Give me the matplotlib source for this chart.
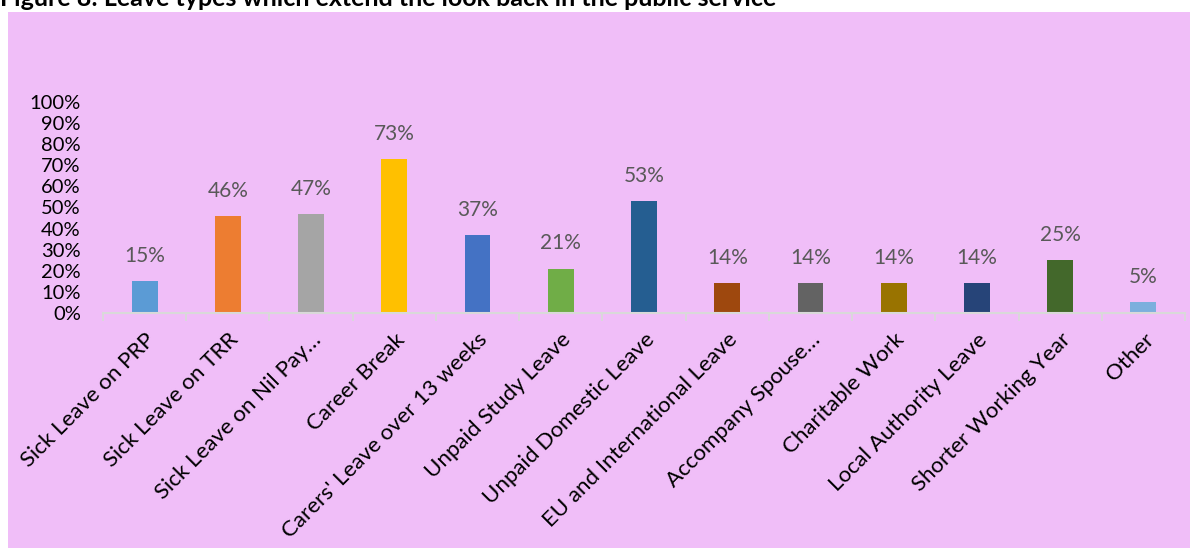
import matplotlib
matplotlib.use("Agg")
import matplotlib.pyplot as plt
from matplotlib.patches import Rectangle
from matplotlib.ticker import PercentFormatter, FixedLocator, NullFormatter

plt.rcParams.update({"font.family": ["Lato", "DejaVu Sans"]})

categories = ["Sick Leave on PRP", "Sick Leave on TRR", "Sick Leave on Nil Pay…", "Career Break",
              "Carers' Leave over 13 weeks", "Unpaid Study Leave", "Unpaid Domestic Leave",
              "EU and International Leave", "Accompany Spouse…", "Charitable Work",
              "Local Authority Leave", "Shorter Working Year", "Other"]
values = [0.15, 0.46, 0.47, 0.73, 0.37, 0.21, 0.53, 0.14, 0.14, 0.14, 0.14, 0.25, 0.05]
labels = ["15%", "46%", "47%", "73%", "37%", "21%", "53%", "14%", "14%", "14%", "14%", "25%", "5%"]
colors = ["#5B9BD5", "#ED7D31", "#A5A5A5", "#FFC000", "#4472C4", "#70AD47", "#255E91",
          "#9E480E", "#636363", "#997300", "#264478", "#43682B", "#7CAFDD"]

W, H = 1198, 550
fig = plt.figure(figsize=(W / 100, H / 100), dpi=100, facecolor="white")
PINK = "#F0BEF8"
fig.patches.append(Rectangle((8 / W, 2 / H), 1182 / W, 536 / H, transform=fig.transFigure,
                             facecolor=PINK, edgecolor="none", zorder=-10))
fig.text(0.0, 1 - 6 / H, "Figure 8: Leave types which extend the look back in the public service",
         fontsize=18, fontweight="bold", va="baseline", ha="left")

ax = fig.add_axes([103 / W, 237 / H, 1082 / W, 211 / H])
ax.set_facecolor("none")
x = range(len(categories))
ax.bar(x, values, width=0.31, color=colors)
for xi, v, lab in zip(x, values, labels):
    ax.annotate(lab, (xi, v), xytext=(0, 11), textcoords="offset points",
                ha="center", va="bottom", fontsize=15, color="#595959")

ax.set_xlim(-0.5, len(categories) - 0.5)
ax.set_ylim(0, 1)
ax.set_yticks([i / 10 for i in range(11)])
ax.yaxis.set_major_formatter(PercentFormatter(1.0, decimals=0))
ax.tick_params(axis="y", length=0, labelsize=14.5, pad=16)
ax.set_xticks(list(x))
ax.set_xticklabels(categories, rotation=45, ha="right", rotation_mode="anchor", fontsize=16)
ax.tick_params(axis="x", which="major", length=0, pad=12)
ax.xaxis.set_minor_locator(FixedLocator([i - 0.5 for i in range(len(categories) + 1)]))
ax.xaxis.set_minor_formatter(NullFormatter())
ax.tick_params(axis="x", which="minor", length=6, width=1.3, color="#D9D9D9")
for s in ["top", "right", "left"]:
    ax.spines[s].set_visible(False)
ax.spines["bottom"].set_color("#D9D9D9")
ax.spines["bottom"].set_linewidth(1.5)

fig.savefig("out.png", dpi=100, facecolor="white")
plt.close(fig)
